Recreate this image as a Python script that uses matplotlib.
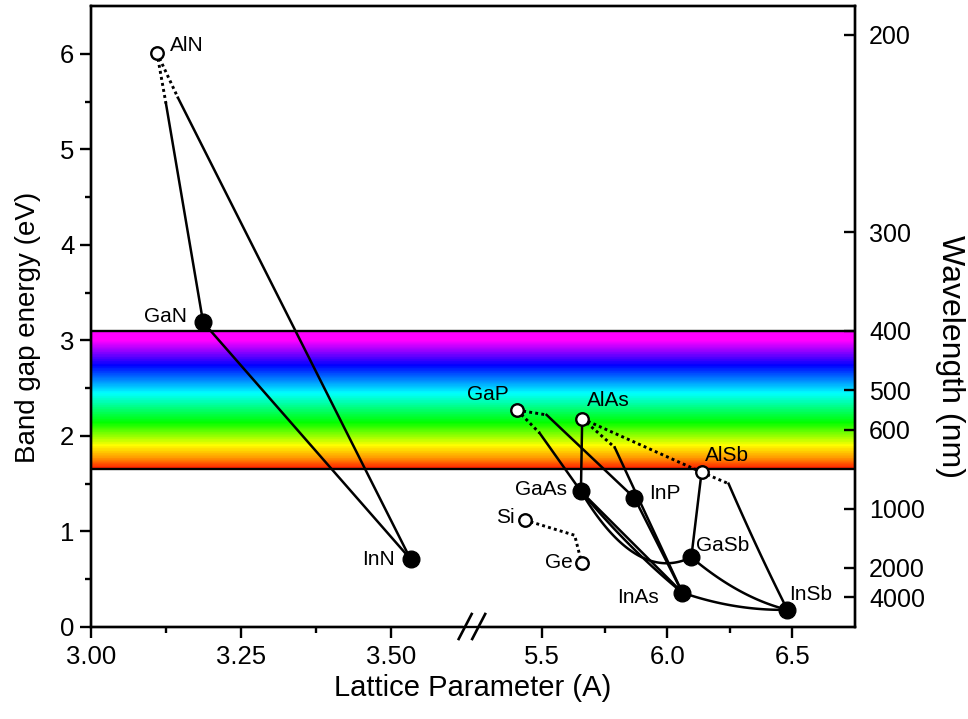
import numpy as np
import matplotlib
matplotlib.use("Agg")
import matplotlib.pyplot as plt
from matplotlib.colors import LinearSegmentedColormap

plt.rcParams["font.family"] = ["Liberation Sans", "DejaVu Sans"]

# =====================================
# Data
# =====================================

compounds = ["AlN", "GaN", "InN", "GaP", "AlAs", "AlSb", "GaAs",
             "InP", "GaSb", "InAs", "InSb", "Si", "Ge"]
lattice = [3.110, 3.187, 3.533, 5.40, 5.66, 6.137, 5.655,
           5.869, 6.096, 6.06, 6.48, 5.43, 5.658]
band_gap = [6.01, 3.19, 0.71, 2.27, 2.18, 1.62, 1.42,
            1.35, 0.73, 0.36, 0.18, 1.12, 0.67]
indirect = ["AlN", "GaP", "AlAs", "AlSb", "Si", "Ge"]

# points where the indirect (dotted) branch turns into the direct one
kink_names = ["AlGaN", "AlInN", "GaAsP", "GaInP", "AlInAs", "AlInSb", "SiGe"]
kink_lattice = [3.125, 3.145, 5.49, 5.518, 5.79, 6.245, 5.63]
kink_gap = [5.48, 5.54, 2.03, 2.22, 1.88, 1.50, 0.96]

dotted_paths = [
    ["AlN", "AlGaN"],
    ["AlN", "AlInN"],
    ["GaP", "GaAsP"],
    ["GaP", "GaInP"],
    ["AlAs", "AlInAs"],
    ["AlAs", "AlSb"],
    ["AlSb", "AlInSb"],
    ["Si", "SiGe", "Ge"],
]

# start, end, bowing parameter (eV)
solid_curves = [
    ("AlGaN", "GaN", 0.0),
    ("AlInN", "InN", 0.0),
    ("GaN", "InN", 0.0),
    ("GaAsP", "GaAs", 0.0),
    ("GaInP", "InP", 0.0),
    ("AlAs", "GaAs", 0.0),
    ("AlInAs", "InAs", 0.0),
    ("InP", "InAs", 0.0),
    ("GaAs", "InAs", 0.0),
    ("GaAs", "InAs", 0.2),
    ("GaAs", "GaSb", 1.25),
    ("AlSb", "GaSb", 0.0),
    ("AlInSb", "InSb", 0.1),
    ("GaSb", "InSb", 0.3),
    ("InAs", "InSb", 0.2),
]

visible_band = (1.65, 3.10)
band_energies = [1.65, 1.67, 1.77, 1.90, 2.14, 2.45, 2.74, 2.87, 3.00, 3.10]
band_colors = ["#ff1000", "#ff2a00", "#ff9a00", "#ffff00", "#00ff00",
               "#00ffff", "#0000ff", "#8000ff", "#ff00ff", "#ff00ff"]

wavelength_ticks = [200, 300, 400, 500, 600, 1000, 2000, 4000]

x_major = [3.00, 3.25, 3.50, 5.5, 6.0, 6.5]
x_major_labels = ["3.00", "3.25", "3.50", "5.5", "6.0", "6.5"]
x_minor = [3.125, 3.375, 5.75, 6.25]

# =====================================
# Broken x scale
# =====================================

X_MIN, X_MAX = 3.0, 6.75
LEFT_END, RIGHT_START = 3.635, 5.2186
LEFT_RATE, RIGHT_RATE = 600.0, 250.5
GAP_U = (LEFT_END - X_MIN) * LEFT_RATE


def fwd(a):
    a = np.asarray(a, dtype=float)
    return np.where(a <= LEFT_END, (a - X_MIN) * LEFT_RATE,
                    np.where(a >= RIGHT_START,
                             GAP_U + (a - RIGHT_START) * RIGHT_RATE, GAP_U))


def inv(u):
    u = np.asarray(u, dtype=float)
    return np.where(u <= GAP_U, X_MIN + u / LEFT_RATE,
                    RIGHT_START + (u - GAP_U) / RIGHT_RATE)


points = {n: (a, e) for n, a, e in zip(compounds, lattice, band_gap)}
points.update({n: (a, e) for n, a, e in zip(kink_names, kink_lattice, kink_gap)})

# =====================================
# Figure
# =====================================

W, H = 968, 719
fig = plt.figure(figsize=(W / 100, H / 100), dpi=100)
ax = fig.add_axes([91 / W, 92 / H, 764 / W, 621 / H])
ax.set_xscale("function", functions=(fwd, inv))
ax.set_xlim(X_MIN, X_MAX)
ax.set_ylim(0, 6.5)

# visible spectrum band
cmap = LinearSegmentedColormap.from_list(
    "spectrum",
    [((e - band_energies[0]) / (band_energies[-1] - band_energies[0]), c)
     for e, c in zip(band_energies, band_colors)])
edges = np.linspace(visible_band[0], visible_band[1], 200)
centers = 0.5 * (edges[1:] + edges[:-1])
ax.pcolormesh([X_MIN, X_MAX], edges, centers[:, None], cmap=cmap,
              vmin=band_energies[0], vmax=band_energies[-1],
              shading="flat", zorder=0, rasterized=True)
for e in visible_band:
    ax.axhline(e, color="black", lw=1.7, zorder=1)

# alloy lines
for path in dotted_paths:
    xs = [points[n][0] for n in path]
    ys = [points[n][1] for n in path]
    ax.plot(xs, ys, color="black", lw=2.1, ls=(0, (1.0, 1.1)),
            solid_capstyle="butt", zorder=2)

t = np.linspace(0, 1, 120)
for start, end, b in solid_curves:
    a0, e0 = points[start]
    a1, e1 = points[end]
    xs = (1 - t) * a0 + t * a1
    ys = (1 - t) * e0 + t * e1 - b * t * (1 - t)
    ax.plot(xs, ys, color="black", lw=1.8, zorder=2)

# compounds
for name, a, e in zip(compounds, lattice, band_gap):
    if name in indirect:
        ax.plot(a, e, "o", ms=9, mfc="white", mec="black", mew=1.7, zorder=4)
    else:
        ax.plot(a, e, "o", ms=12, mfc="black", mec="black", zorder=4)

label_pos = {
    "AlN": (13, 7, "left"),
    "GaN": (-16, 6, "right"),
    "InN": (-16, 0, "right"),
    "GaP": (-8, 16, "right"),
    "AlAs": (5, 18, "left"),
    "AlSb": (3, 17, "left"),
    "GaAs": (-14, 2, "right"),
    "InP": (15, 5, "left"),
    "GaSb": (5, 12, "left"),
    "InAs": (-23, -5, "right"),
    "InSb": (2, 15, "left"),
    "Si": (-10, 2, "right"),
    "Ge": (-9, 0, "right"),
}
for name, a, e in zip(compounds, lattice, band_gap):
    dx, dy, ha = label_pos[name]
    ax.annotate(name, (a, e), xytext=(dx, dy), textcoords="offset pixels",
                ha=ha, va="center", fontsize=15, zorder=5)

# =====================================
# Axes styling
# =====================================

for s in ax.spines.values():
    s.set_linewidth(1.7)

ax.set_xticks(x_major)
ax.set_xticklabels(x_major_labels)
ax.set_xticks(x_minor, minor=True)
ax.set_yticks(range(0, 7))
ax.set_yticks(np.arange(0.5, 6.5, 1.0), minor=True)
ax.tick_params(which="both", direction="out", width=1.7, labelsize=18.5,
               top=False, right=False)
ax.tick_params(which="major", length=8)
ax.tick_params(which="minor", length=4.5)
ax.tick_params(axis="x", pad=5)
ax.tick_params(axis="y", pad=4)

ax.set_xlabel("Lattice Parameter (A)", fontsize=21)
ax.set_ylabel("Band gap energy (eV)", fontsize=20)
ax.xaxis.set_label_coords(0.5, -0.076)
ax.yaxis.set_label_coords(-0.065, 0.483)

# wavelength axis
twin = ax.twinx()
twin.set_ylim(ax.get_ylim())
twin.set_yticks([1240.0 / w for w in wavelength_ticks])
twin.set_yticklabels([str(w) for w in wavelength_ticks])
twin.tick_params(axis="y", direction="in", length=8, width=1.7,
                 labelsize=18, pad=10)
twin.set_ylabel("Wavelength (nm)", fontsize=23, rotation=270, va="center")
twin.yaxis.set_label_coords(1.124, 0.436)
for s in twin.spines.values():
    s.set_linewidth(1.7)

# axis break marks on the bottom spine
bf = float(fwd(LEFT_END) / fwd(X_MAX))
pw, ph = 764.0, 621.0
ax.plot([bf - 7 / pw, bf + 7 / pw], [0, 0], color="white", lw=3.0,
        transform=ax.transAxes, clip_on=False, zorder=6)
for cx in (bf - 6.5 / pw, bf + 7 / pw):
    ax.plot([cx - 6.5 / pw, cx + 6.5 / pw], [-12 / ph, 13 / ph],
            color="black", lw=1.9, transform=ax.transAxes,
            clip_on=False, zorder=7)

fig.savefig("out.png", dpi=100)
